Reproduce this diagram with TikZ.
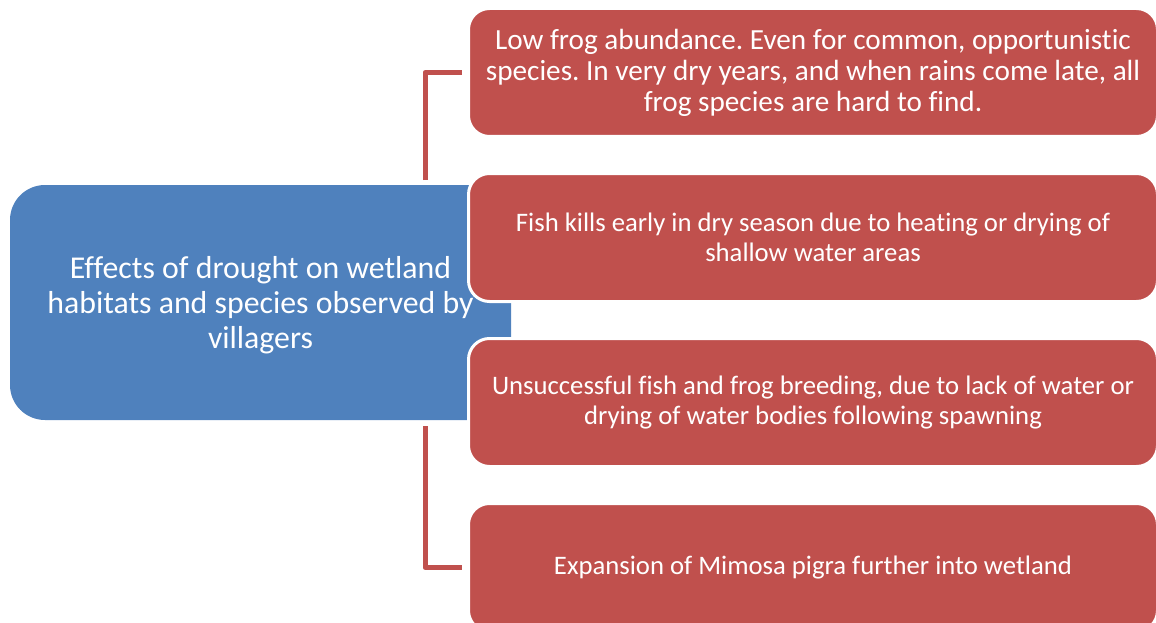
\documentclass[tikz,border=0pt]{standalone}
\usepackage{fontspec}
\setmainfont[Ligatures=NoCommon]{Carlito}
\definecolor{cblue}{RGB}{79,129,189}
\definecolor{cred}{RGB}{192,80,77}
\frenchspacing
\begin{document}
\begin{tikzpicture}[x=1pt,y=-1pt,
  mainbox/.style={fill=cblue, rounded corners=35pt, minimum width=501pt, minimum height=235pt, inner sep=0pt, text=white, align=center, font=\fontsize{31.8}{35}\selectfont},
  effbox/.style={fill=cred, draw=white, line width=3pt, rounded corners=21pt, minimum width=689pt, minimum height=128pt, inner sep=0pt, text=white, align=center, font=\fontsize{26.7}{30}\selectfont},
  conn/.style={draw=cred, line width=5pt, line join=round}]
\useasboundingbox (0,0) rectangle (1156,623);
\node[mainbox] (blue) at (260.5,302.5) {};
\node[text=white, align=center, font=\fontsize{31.8}{35}\selectfont] (bluetext) at (blue.center) [yshift=-3pt] {Effects of drought on wetland\\habitats and species observed by\\villagers};
\node[effbox, font=\fontsize{29.2}{31}\selectfont] (b1) at (813,72.5) {Low frog abundance. Even for common, opportunistic\\species. In very dry years, and when rains come late, all\\frog species are hard to find.};
\node[effbox] (b2) at (813,237.5) {Fish kills early in dry season due to heating or drying of\\shallow water areas};
\node[effbox] (b3) at (813,402.5) {Unsuccessful fish and frog breeding, due to lack of water or\\drying of water bodies following spawning};
\node[effbox] (b4) at (813,567.5) {Expansion of Mimosa pigra further into wetland};
\coordinate (j1) at (425,180);
\coordinate (j4) at (425,426);
\draw[conn] (j1) |- ([xshift=-5pt]b1.west);
\draw[conn] (j4) |- ([xshift=-5pt]b4.west);
\end{tikzpicture}
\end{document}
